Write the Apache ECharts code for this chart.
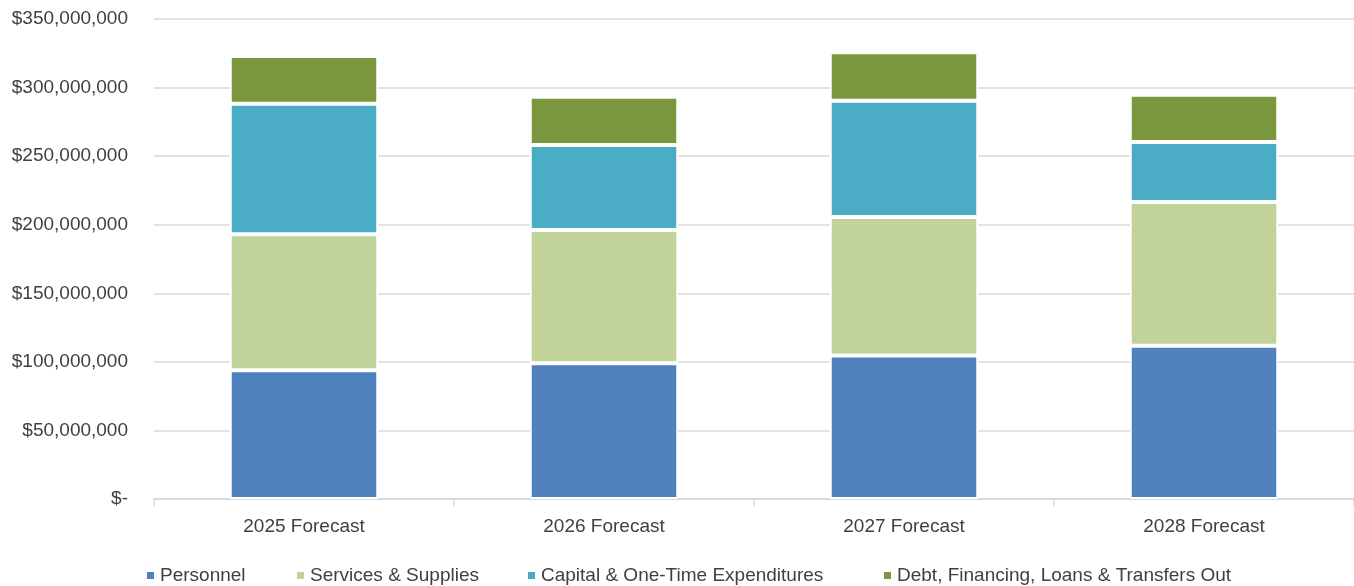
<!DOCTYPE html>
<html>
<head>
<meta charset="utf-8">
<script src="https://cdn.jsdelivr.net/npm/echarts@6/dist/echarts.min.js"></script>
<style>
html,body{margin:0;padding:0;background:#fff;}
#chart{width:1354px;height:586px;}
</style>
</head>
<body>
<div id="chart"></div>
<script>
const categories = ['2025 Forecast', '2026 Forecast', '2027 Forecast', '2028 Forecast'];
const personnel = [93900000, 99000000, 104700000, 111800000];
const services = [99200000, 97200000, 101000000, 104700000];
const capital = [95100000, 61900000, 84600000, 43900000];
const debt = [34900000, 35200000, 35400000, 34400000];
const seriesNames = ['Personnel', 'Services & Supplies', 'Capital & One-Time Expenditures', 'Debt, Financing, Loans & Transfers Out'];
const colors = ['#4F81BD', '#C2D399', '#4BACC6', '#7A973E'];
const legendLefts = [145, 295, 526, 882];

const font = 'Liberation Sans, Arial, sans-serif';
const chart = echarts.init(document.getElementById('chart'), null, {renderer: 'canvas'});

function fmt(v) {
  if (v === 0) return '$-';
  return '$' + v.toLocaleString('en-US');
}

const values = [personnel, services, capital, debt];
const series = values.map((arr, i) => ({
  name: seriesNames[i],
  type: 'bar',
  stack: 'total',
  data: arr,
  barWidth: '49.5%',
  itemStyle: {color: colors[i], borderColor: '#ffffff', borderWidth: 2},
  emphasis: {disabled: true}
}));

const legends = seriesNames.map((n, i) => ({
  data: [n],
  left: legendLefts[i],
  top: 566,
  padding: 0,
  icon: 'rect',
  itemWidth: 9,
  itemHeight: 9,
  itemGap: 0,
  textStyle: {fontFamily: font, fontSize: 19, color: '#404040'},
  selectedMode: false
}));

chart.setOption({
  animation: false,
  color: colors,
  grid: {left: 154, right: 0, top: 19, bottom: 87, containLabel: false},
  legend: legends,
  xAxis: {
    type: 'category',
    data: categories,
    axisLine: {lineStyle: {color: '#D9D9D9', width: 2}},
    axisTick: {show: true, length: 7, lineStyle: {color: '#D9D9D9', width: 1.5}},
    axisLabel: {fontFamily: font, fontSize: 19, color: '#404040', margin: 18}
  },
  yAxis: {
    type: 'value',
    min: 0,
    max: 350000000,
    interval: 50000000,
    axisLine: {show: false},
    axisTick: {show: false},
    splitLine: {lineStyle: {color: '#D9D9D9', width: 1.5}},
    axisLabel: {fontFamily: font, fontSize: 19, color: '#404040', margin: 26, formatter: fmt}
  },
  series: series
});
</script>
</body>
</html>
